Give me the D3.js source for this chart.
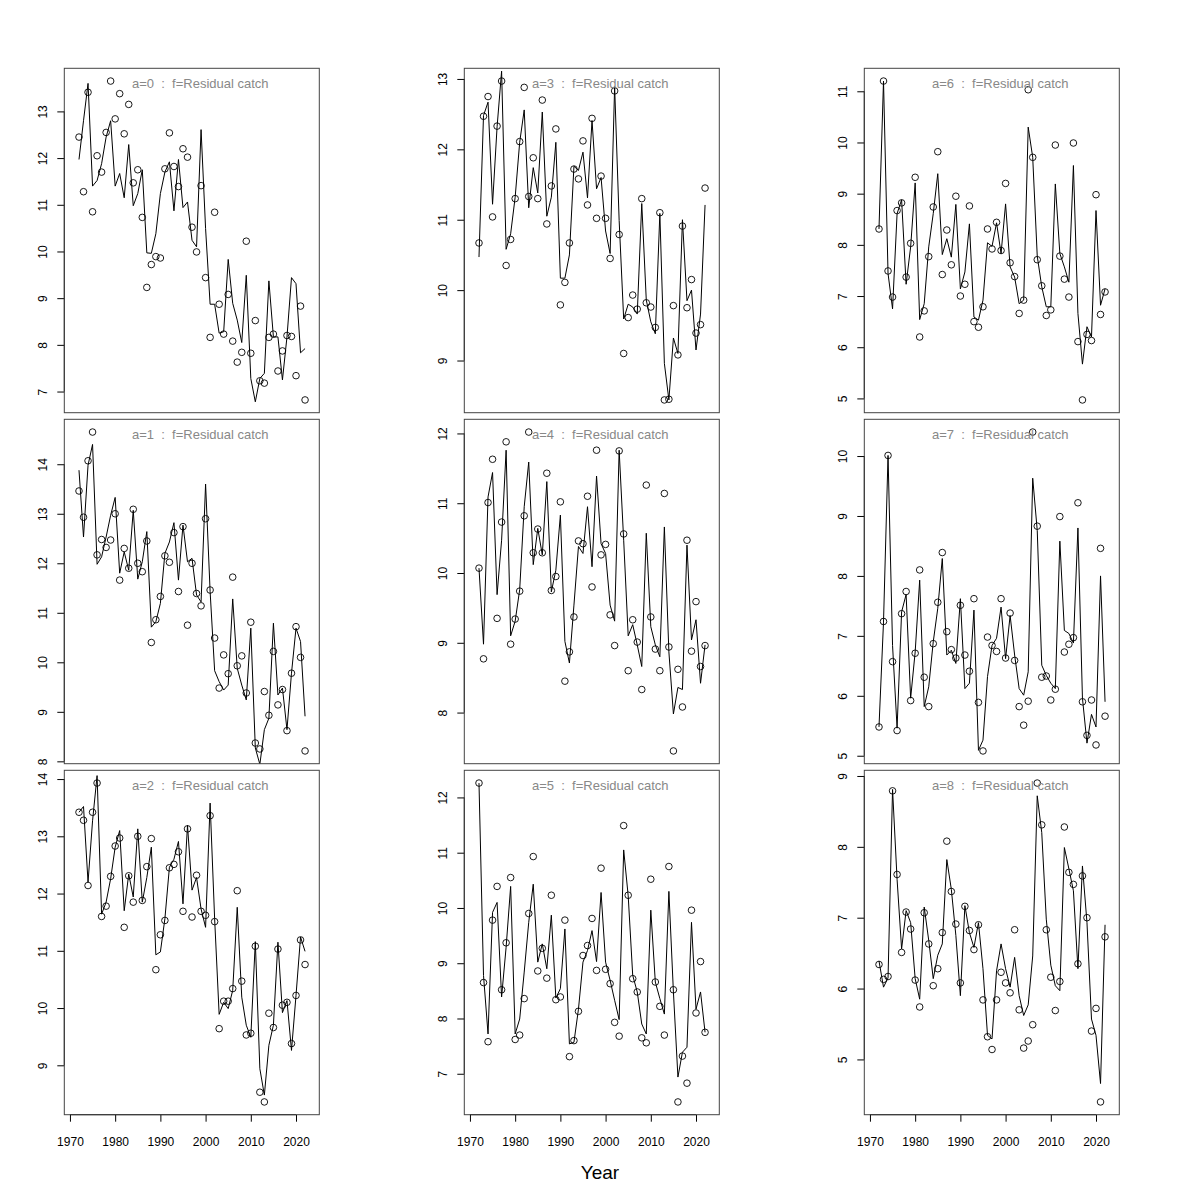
<!DOCTYPE html>
<html>
<head>
<meta charset="utf-8">
<script src="https://cdn.jsdelivr.net/npm/d3@7"></script>
<style>
  html, body { margin: 0; padding: 0; background: #ffffff; }
  svg { display: block; font-family: "Liberation Sans", Arial, Helvetica, sans-serif; }
</style>
</head>
<body>
<svg id="chart" width="1200" height="1200"></svg>
<script>
// ---------------- data ----------------
const years = [1972,1973,1974,1975,1976,1977,1978,1979,1980,1981,1982,1983,1984,1985,1986,1987,1988,1989,1990,1991,
  1992,1993,1994,1995,1996,1997,1998,1999,2000,2001,2002,2003,2004,2005,2006,2007,2008,2009,2010,2011,
  2012,2013,2014,2015,2016,2017,2018,2019,2020,2021,2022];

const xTickLabels = [1970, 1980, 1990, 2000, 2010, 2020];
const ages = [0, 1, 2, 3, 4, 5, 6, 7, 8];
const fleetLabel = "Residual catch";
const xAxisTitle = "Year";

// observed (circles) and fitted (line) log catch, per age
const obs0 = [12.45,11.28,13.41,10.85,12.05,11.7,12.55,13.65,12.84,13.38,12.52,13.15,11.47,11.75,10.73,9.23,9.72,9.89,9.86,11.77,
  12.54,11.82,11.39,12.2,12.02,10.52,9.99,11.41,9.44,8.16,10.84,8.87,8.23,9.08,8.08,7.63,7.84,10.22,7.82,8.52,
  7.23,7.18,8.16,8.23,7.44,7.87,8.2,8.18,7.34,8.83,6.82];
const fit0 = [11.97,12.8,13.6,11.4,11.52,11.88,12.45,12.8,11.4,11.67,11.15,12.29,10.98,11.24,11.75,9.97,9.96,10.38,11.24,11.7,
  11.92,10.87,11.97,10.94,11.06,10.24,10.1,12.61,10.49,8.87,8.87,8.25,8.28,9.83,8.89,8.53,8.05,9.49,7.28,6.78,
  7.28,7.39,9.37,8.17,8.17,7.25,8.17,9.44,9.31,7.83,7.92];

const obs1 = [13.46,12.93,14.07,14.65,12.17,12.48,12.32,12.47,13.0,11.66,12.3,11.9,13.09,12.0,11.83,12.45,10.4,10.86,11.33,12.15,
  12.02,12.62,11.43,12.74,10.75,12.0,11.39,11.14,12.9,11.46,10.49,9.48,10.15,9.77,11.72,9.93,10.13,9.38,10.81,8.37,
  8.25,9.41,8.93,10.22,9.14,9.45,8.62,9.78,10.72,10.1,8.21];
const fit1 = [13.88,12.53,13.98,14.4,11.98,12.13,12.53,12.97,13.33,11.8,12.23,11.86,13.07,11.68,12.03,12.64,10.71,10.82,11.19,12.2,
  12.43,12.82,11.66,12.77,12.03,12.1,11.36,11.22,13.6,11.43,9.83,9.61,9.44,9.54,11.28,9.88,9.54,9.24,10.69,8.27,
  7.94,8.64,8.87,10.79,9.34,9.48,8.64,9.78,10.69,10.42,8.91];

const obs2 = [13.42,13.28,12.14,13.42,13.93,11.6,11.78,12.3,12.83,12.97,11.41,12.31,11.85,13.0,11.88,12.47,12.96,10.67,11.28,11.53,
  12.45,12.51,12.73,11.69,13.13,11.59,12.32,11.69,11.62,13.36,11.51,9.64,10.12,10.12,10.34,12.05,10.47,9.53,9.56,11.08,
  8.53,8.36,9.91,9.66,11.03,10.05,10.1,9.38,10.22,11.19,10.76];
const fit2 = [13.42,13.52,12.2,13.27,14.06,11.64,11.85,12.26,12.81,13.1,11.7,12.34,11.94,13.13,11.85,12.28,12.81,10.93,10.98,11.56,
  12.46,12.6,12.91,11.82,13.19,12.06,12.28,11.73,11.41,13.58,11.56,9.89,10.1,9.99,10.31,11.76,10.19,9.7,9.49,11.16,
  8.94,8.48,9.35,9.7,11.15,9.92,10.13,9.26,10.22,11.24,10.99];

const obs3 = [10.67,12.47,12.75,11.04,12.33,12.97,10.35,10.72,11.3,12.11,12.88,11.33,11.88,11.3,12.7,10.94,11.48,12.29,9.79,10.11,
  10.67,11.72,11.58,12.12,11.21,12.44,11.02,11.62,11.02,10.45,12.83,10.79,9.1,9.61,9.93,9.73,11.3,9.82,9.76,9.47,
  11.1,8.44,8.45,9.78,9.08,10.91,9.75,10.15,9.39,9.51,11.45];
const fit3 = [10.47,12.48,12.67,11.22,12.32,13.11,10.58,10.8,11.32,12.1,12.56,11.17,11.74,11.38,12.53,11.05,11.32,12.1,10.17,10.17,
  10.5,11.76,11.7,11.96,11.31,12.41,11.44,11.6,10.84,10.52,12.89,10.99,9.59,9.8,9.76,9.66,11.23,9.86,9.55,9.38,
  11.09,8.96,8.44,9.32,9.1,11.0,9.85,10.0,9.15,9.66,11.21];

const obs4 = [10.07,8.77,11.01,11.63,9.35,10.73,11.88,8.98,9.34,9.74,10.82,12.02,10.29,10.63,10.29,11.43,9.75,9.95,11.02,8.45,
  8.87,9.37,10.46,10.42,11.1,9.8,11.76,10.26,10.41,9.4,8.96,11.75,10.56,8.6,9.33,9.01,8.33,11.26,9.37,8.91,
  8.6,11.14,8.94,7.45,8.62,8.08,10.47,8.88,9.59,8.66,8.96];
const fit4 = [10.07,8.98,11.09,11.44,9.69,10.47,11.76,9.1,9.31,9.76,10.95,11.59,10.12,10.64,10.26,11.31,9.73,10.04,10.83,9.02,
  8.71,9.54,10.38,10.28,10.95,10.09,11.39,10.42,10.28,9.54,9.31,11.76,10.47,9.1,9.26,8.97,8.66,10.57,9.23,8.97,
  8.8,10.66,8.87,7.98,8.36,8.33,10.4,9.04,9.33,8.42,8.97];

const obs5 = [12.26,8.65,7.58,9.78,10.39,8.52,9.37,10.55,7.62,7.7,8.36,9.9,10.93,8.86,9.27,8.73,10.23,8.34,8.39,9.78,
  7.31,7.6,8.13,9.14,9.32,9.81,8.87,10.72,8.89,8.63,7.93,7.68,11.49,10.23,8.72,8.48,7.65,7.56,10.52,8.66,
  8.22,7.7,10.75,8.52,6.49,7.32,6.83,9.96,8.1,9.03,7.75];
const fit5 = [12.26,8.78,7.72,9.92,10.1,8.39,9.29,10.39,7.72,7.99,8.84,9.74,10.43,9.02,9.35,8.9,9.87,8.37,8.54,9.62,
  7.54,7.57,8.17,9.02,9.23,9.59,9.03,10.28,9.02,8.69,8.33,7.98,11.05,10.22,8.78,8.48,7.9,7.72,9.96,8.66,
  8.36,8.08,10.3,8.48,6.94,7.39,7.48,9.74,8.17,8.48,7.75];

const obs6 = [8.31,11.2,7.49,6.98,8.67,8.82,7.37,8.03,9.32,6.2,6.71,7.77,8.74,9.82,7.42,8.29,7.61,8.95,7.0,7.23,
  8.76,6.5,6.39,6.79,8.31,7.92,8.44,7.89,9.2,7.65,7.38,6.66,6.92,11.03,9.71,7.71,7.2,6.62,6.73,9.95,
  7.78,7.33,6.98,9.99,6.11,4.97,6.25,6.13,8.98,6.64,7.08];
const fit6 = [8.31,11.2,7.44,6.75,8.61,8.88,7.23,7.96,9.21,6.54,6.85,7.96,8.61,9.39,7.81,8.12,7.76,8.79,7.14,7.47,
  8.41,6.59,6.53,6.92,8.04,7.97,8.43,7.83,8.8,7.57,7.37,6.85,6.92,10.3,9.71,7.78,7.18,6.79,6.79,9.19,
  7.83,7.57,7.27,9.55,6.66,5.67,6.4,6.2,8.67,6.82,7.14];

const obs7 = [5.48,7.24,10.01,6.57,5.42,7.37,7.74,5.92,6.71,8.1,6.31,5.82,6.87,7.56,8.39,7.07,6.77,6.63,7.51,6.68,
  6.41,7.62,5.89,5.08,6.98,6.84,6.74,7.62,6.63,7.38,6.59,5.82,5.51,5.91,10.4,8.83,6.31,6.33,5.93,6.11,
  8.99,6.73,6.86,6.97,9.22,5.9,5.34,5.93,5.18,8.46,5.66];
const fit7 = [5.48,7.23,10.01,6.84,5.46,7.4,7.69,5.96,6.73,7.93,5.82,6.15,6.9,7.46,8.29,6.68,6.76,6.54,7.62,6.12,
  6.21,7.43,5.09,5.26,6.32,6.84,6.96,7.48,6.62,7.34,6.68,6.12,6.01,6.4,9.63,8.76,6.51,6.34,6.21,6.12,
  8.58,7.09,7.04,6.88,8.8,5.96,5.21,5.69,5.48,8.0,5.9];

const obs8 = [6.34,6.13,6.17,8.79,7.61,6.51,7.08,6.84,6.12,5.74,7.07,6.63,6.04,6.28,6.79,8.08,7.37,6.91,6.08,7.16,
  6.82,6.55,6.9,5.84,5.32,5.14,5.84,6.23,6.08,5.94,6.83,5.7,5.16,5.26,5.49,8.9,8.31,6.83,6.16,5.69,
  6.1,8.28,7.64,7.47,6.35,7.59,7.0,5.4,5.72,4.4,6.73];
const fit8 = [6.39,6.02,6.15,8.81,7.54,6.56,7.1,6.93,6.14,5.85,7.15,6.68,6.14,6.47,6.63,7.82,7.4,6.75,5.9,7.17,
  6.79,6.58,6.93,6.28,5.34,5.29,6.25,6.63,6.28,6.02,6.44,5.9,5.62,5.77,6.46,8.72,8.2,6.98,6.33,6.04,
  5.97,7.99,7.69,7.38,6.28,7.73,6.93,5.57,5.34,4.66,6.9];

const obsList = [obs0, obs1, obs2, obs3, obs4, obs5, obs6, obs7, obs8];
const fitList = [fit0, fit1, fit2, fit3, fit4, fit5, fit6, fit7, fit8];

// ---------------- layout ----------------
const colLeft = [64.3, 464.3, 864.3];
const rowTop = [68.3, 419.3, 770.3];
const panelW = 255;
const panelH = 344.4;
const xDomain = [1968.75, 2025.15];

const svg = d3.select("#chart");
const defs = svg.append("defs");

ages.forEach((age, k) => {
  const col = Math.floor(k / 3);
  const row = k % 3;
  const x0 = colLeft[col], y0 = rowTop[row];
  const obs = obsList[k], fit = fitList[k];
  const data = years.map((yr, i) => ({ year: yr, obs: obs[i], fit: fit[i] }));

  const ext = d3.extent(obs);
  const pad = (ext[1] - ext[0]) * 0.04;
  const x = d3.scaleLinear().domain(xDomain).range([0, panelW]);
  const y = d3.scaleLinear().domain([ext[0] - pad, ext[1] + pad]).range([panelH, 0]);

  const g = svg.append("g").attr("transform", `translate(${x0},${y0})`);

  const clipId = "clip" + k;
  defs.append("clipPath").attr("id", clipId)
    .append("rect").attr("x", 0).attr("y", 0).attr("width", panelW).attr("height", panelH);

  // fitted line
  g.append("path")
    .datum(data)
    .attr("clip-path", `url(#${clipId})`)
    .attr("fill", "none")
    .attr("stroke", "#000")
    .attr("stroke-width", 1)
    .attr("d", d3.line().x(d => x(d.year)).y(d => y(d.fit)));

  // observed circles
  g.append("g").attr("clip-path", `url(#${clipId})`)
    .selectAll("circle").data(data).join("circle")
    .attr("cx", d => x(d.year))
    .attr("cy", d => y(d.obs))
    .attr("r", 3.3)
    .attr("fill", "none")
    .attr("stroke", "#000")
    .attr("stroke-width", 0.9);

  // y axis
  const yAxis = d3.axisLeft(y).ticks(6).tickSize(7).tickPadding(0).tickFormat(d3.format("d"));
  const ya = g.append("g").call(yAxis);
  ya.select(".domain").remove();
  ya.selectAll(".tick line").attr("stroke", "#000");
  ya.selectAll(".tick text")
    .attr("x", null).attr("dy", null)
    .attr("transform", "translate(-17,0) rotate(-90)")
    .attr("text-anchor", "middle")
    .attr("font-size", 12)
    .attr("font-family", "Liberation Sans, Arial, sans-serif")
    .attr("fill", "#000");
  const yt = y.ticks(6);
  ya.append("line").attr("x1", 0).attr("x2", 0)
    .attr("y1", y(yt[0])).attr("y2", y(yt[yt.length - 1]))
    .attr("stroke", "#000");

  // x axis (bottom row only)
  if (row === 2) {
    const xAxis = d3.axisBottom(x).tickValues(xTickLabels).tickSize(7).tickPadding(0).tickFormat(d3.format("d"));
    const xa = g.append("g").attr("transform", `translate(0,${panelH})`).call(xAxis);
    xa.select(".domain").remove();
    xa.selectAll(".tick line").attr("stroke", "#000");
    xa.selectAll(".tick text")
      .attr("y", 31).attr("dy", null)
      .attr("font-size", 12)
      .attr("font-family", "Liberation Sans, Arial, sans-serif")
      .attr("fill", "#000");
    xa.append("line")
      .attr("x1", x(xTickLabels[0])).attr("x2", x(xTickLabels[xTickLabels.length - 1]))
      .attr("y1", 0).attr("y2", 0).attr("stroke", "#000");
  }

  // box
  g.append("rect")
    .attr("x", 0).attr("y", 0).attr("width", panelW).attr("height", panelH)
    .attr("fill", "none").attr("stroke", "#444").attr("stroke-width", 1);

  // panel title
  g.append("text")
    .attr("x", panelW / 2 + 8.5)
    .attr("y", 20)
    .attr("text-anchor", "middle")
    .attr("font-size", 13)
    .attr("fill", "#888")
    .attr("xml:space", "preserve")
    .style("white-space", "pre")
    .text(`a=${age}  :  f=${fleetLabel}`);
});

// x-axis title
svg.append("text")
  .attr("x", 600)
  .attr("y", 1179)
  .attr("text-anchor", "middle")
  .attr("font-size", 19)
  .attr("fill", "#000")
  .text(xAxisTitle);
</script>
</body>
</html>
